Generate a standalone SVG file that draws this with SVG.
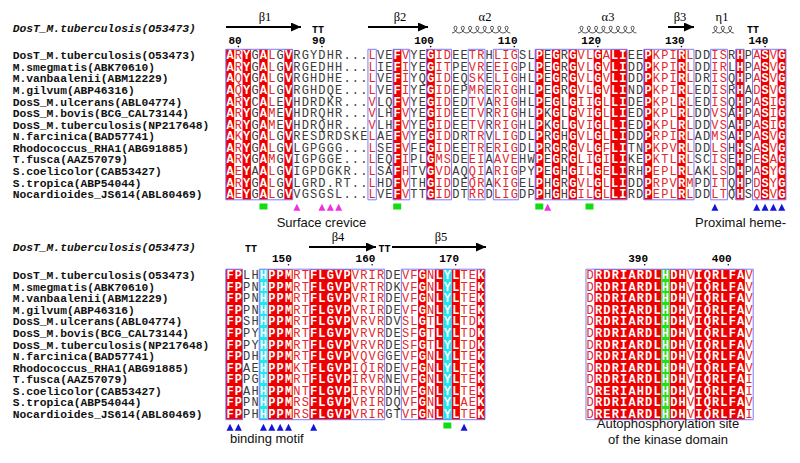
<svg xmlns="http://www.w3.org/2000/svg" width="800" height="463" viewBox="0 0 800 463">
<style>
.seq{font-family:"Liberation Mono",monospace;font-size:12px;letter-spacing:1.16px}
.tW{fill:#fff;font-weight:bold}
.tS{fill:#e3262b}
.tN{fill:#3a3a3a}
.rbg{fill:#ee0000}
.cbg{fill:#22e4f2}
.gbg{fill:#22dd22}
.frame{fill:none;stroke:#7b7bff;stroke-width:1;vector-effect:non-scaling-stroke}
.name{font-family:"Liberation Mono",monospace;font-size:11.3px;font-weight:bold;fill:#111}
.title{font-style:italic}
.num{font-family:"Liberation Mono",monospace;font-size:11px;font-weight:bold;text-anchor:end}
.lbl{font-family:"Liberation Sans",Arial,sans-serif;font-size:13px;fill:#111}
.ss{font-family:"Liberation Serif",serif;font-size:12.5px;text-anchor:middle}
.tt{font-family:"Liberation Mono",monospace;font-size:10px;font-weight:bold;text-anchor:middle}
.arrow{stroke:#000;stroke-width:2;marker-end:url(#ah)}
.helix{fill:none;stroke:#222;stroke-width:0.8}
.gm{fill:#11dd11}
.mg{fill:#f030e0}
.bl{fill:#1515d8}
</style>
<defs>
<marker id="ah" markerUnits="userSpaceOnUse" markerWidth="11" markerHeight="9" refX="10" refY="4.5" orient="auto"><path d="M0 0L10 4.5L0 9z" fill="#000"/></marker>
<path id="tri" d="M-3.5 3.5h7L0-3.5z"/>
<rect id="sq" x="-4" y="-3" width="8" height="6"/>
<g id="names" class="name">
<text x="12.7" y="59.2">DosT_M.tuberculosis(O53473)</text>
<text x="12.7" y="70.78">M.smegmatis(ABK70610)</text>
<text x="12.7" y="82.36">M.vanbaalenii(ABM12229)</text>
<text x="12.7" y="93.94">M.gilvum(ABP46316)</text>
<text x="12.7" y="105.52">DosS_M.ulcerans(ABL04774)</text>
<text x="12.7" y="117.1">DosS_M.bovis(BCG_CAL73144)</text>
<text x="12.7" y="128.68">DosS_M.tuberculosis(NP217648)</text>
<text x="12.7" y="140.26">N.farcinica(BAD57741)</text>
<text x="12.7" y="151.84">Rhodococcus_RHA1(ABG91885)</text>
<text x="12.7" y="163.42">T.fusca(AAZ57079)</text>
<text x="12.7" y="175">S.coelicolor(CAB53427)</text>
<text x="12.7" y="186.58">S.tropica(ABP54044)</text>
<text x="12.7" y="198.16">Nocardioides_JS614(ABL80469)</text>
</g>
<g id="topSeq" class="seq">
<text x="0.58" y="9.9">ARYGALGVRGYDHR...LVEFVYEGIDEETRHLIGSLPEGRGVLGALIEEPKPIRLDDISRHPASVG</text>
<text x="0.58" y="21.48">ARYGALGVRGEDHH...LIEFIYEGITPEVREEIGPLPEGRGVLGVLIDDPKPIRLDDIRLHPASVG</text>
<text x="0.58" y="33.06">AQYGALGVRGHDHE...LVEFIYQGIDEQSKELIGHLPEGRGVLGVLIDDPKPIRLDRISQHPASVG</text>
<text x="0.58" y="44.64">AQYGALGVRGHDQE...LVEFIYEGIDEPMRERIGHLPEGRGVLGVLINDPKPIRLEDISRHADSVG</text>
<text x="0.58" y="56.22">ARYCALEVHDRDKR...VLQFVYEGIDEDTVARIGHLPEGLGIIGLLIDEPKPLRLEDISQHPASIG</text>
<text x="0.58" y="67.8">ARYGAMEVHDRQHR...VLHFVYEGIDEETVRRIGHLPKGLGVIGLLIEDPKPLRLDDVSAHPASIG</text>
<text x="0.58" y="79.38">ARYGAMEVHDRQHR...VLHFVYEGIDEETVRRIGHLPKGLGVIGLLIEDPKPLRLDDVSAHPASIG</text>
<text x="0.58" y="90.96">AKYGALGVRESDRDSKELAEFVYEGIDDRTRVLIGDLPRGHGVLGLLIDDPRPIRLADMSAHPASVG</text>
<text x="0.58" y="102.54">ARYGALGVLGPGGG...LSEFVFEGIDEETRERIGDLPRGRGVLGFLITNPKPVRLDDLSHHSASVG</text>
<text x="0.58" y="114.12">ARYGAMGVIGPGGE...LEQFIPLGMSDEEIAAVEHWPEGRGLIGILIKEPKTLRLSCISEHPESAG</text>
<text x="0.58" y="125.7">AEYAALGVIGPDGKR..LSAFHTVGVDAQQIARIGPYPEGHGILGELIRHPEPLRLAKLSDHPASYG</text>
<text x="0.58" y="137.28">ARYGALGVLGRD.RT..LHDFVTHGIDDEQRAKIGELPHGRGVLGLLIDDPRPVRMPDITQHPDSYG</text>
<text x="0.58" y="148.86">AEYGALGVVGSGSL...LVEFVTTGIDDTRRDLIGDPPHGHGILGLLIRDPEPLRLDDLTQHSQSVG</text>
</g>
<g id="botSeq" class="seq">
<text x="0.58" y="9.9">FPLHHPPMRTFLGVPVRIRDEVFGNLYLTEK</text>
<text x="0.58" y="21.48">FPPNHPPMRTFLGVPVRTRDKVFGNLYLTEK</text>
<text x="0.58" y="33.06">FPPNHPPMRTFLGVPVRIRDEVFGNLYLTEK</text>
<text x="0.58" y="44.64">FPPNHPPMRTFLGVPVRIRDEVFGNLYLTEK</text>
<text x="0.58" y="56.22">FPSHHPPMRTFLGVPVRVRDVSLGTLYLTDK</text>
<text x="0.58" y="67.8">FPPYHPPMRTFLGVPVRVRDESFGTLYLTDK</text>
<text x="0.58" y="79.38">FPPYHPPMRTFLGVPVRVRDESFGTLYLTDK</text>
<text x="0.58" y="90.96">FPDHHPPMRTFLGVPVQVGGEVFGNLYLTEK</text>
<text x="0.58" y="102.54">FPAEHPPMKTFLGVPIQIRDEVFGNLYLTEK</text>
<text x="0.58" y="114.12">FPPGHPPMRTFLGVPIRVRNEVFGNLYLTEK</text>
<text x="0.58" y="125.7">FPAHHPPMNTFLGVPIRVRDHVFGNLYLTEK</text>
<text x="0.58" y="137.28">FPPNHPPMRSFLGVPVRIRDQVFGNLYLAEK</text>
<text x="0.58" y="148.86">FPPHHPPMRSFLGVPVRIRGTVFGNLYLTEK</text>
</g>
<g id="rSeq" class="seq">
<text x="0.58" y="9.9">DRDRIARDLHDHVIQRLFAV</text>
<text x="0.58" y="21.48">DRDRIARDLHDHVIQRLFAV</text>
<text x="0.58" y="33.06">DRDRIARDLHDHVIQRLFAV</text>
<text x="0.58" y="44.64">DRDRIARDLHDHVIQRLFAV</text>
<text x="0.58" y="56.22">DRDRIARDLHDHVIQRLFAV</text>
<text x="0.58" y="67.8">DRDRIARDLHDHVIQRLFAV</text>
<text x="0.58" y="79.38">DRDRIARDLHDHVIQRLFAV</text>
<text x="0.58" y="90.96">DRDRIARDLHDHVIQRLFAV</text>
<text x="0.58" y="102.54">DRDRIARDLHDHVIQRLFAV</text>
<text x="0.58" y="114.12">DRDRIARDLHDHVIQRLFAI</text>
<text x="0.58" y="125.7">DRERIAHDLHDHVIQRLFAI</text>
<text x="0.58" y="137.28">DRDRIARDLHDHVIQRLFAV</text>
<text x="0.58" y="148.86">DRERIARDLHDHVIQRLFAI</text>
</g>
<clipPath id="cTR"><path transform="scale(8.36 1)" d="M0 0h1v150.5h-1zM2 0h1v150.5h-1zM4 0h1v150.5h-1zM7 0h1v150.5h-1zM20 0h1v150.5h-1zM24 0h1v150.5h-1zM37 0h1v150.5h-1zM39 0h1v150.5h-1zM41 0h1v150.5h-1zM44 0h1v150.5h-1zM46 0h2v150.5h-2zM50 0h1v150.5h-1zM54 0h1v150.5h-1zM61 0h1v150.5h-1zM64 0h1v150.5h-1zM66 0h1v150.5h-1z"/></clipPath>
<clipPath id="cTS"><path transform="scale(8.36 1)" d="M1 0h1v150.5h-1zM5 0h1v150.5h-1zM17 0h1v150.5h-1zM21 0h1v150.5h-1zM25 0h2v150.5h-2zM29 0h2v150.5h-2zM32 0h3v150.5h-3zM42 0h2v150.5h-2zM45 0h1v150.5h-1zM51 0h3v150.5h-3zM55 0h1v150.5h-1zM58 0h2v150.5h-2zM63 0h1v150.5h-1zM65 0h1v150.5h-1z"/></clipPath>
<clipPath id="cTN"><path transform="scale(8.36 1)" d="M3 0h1v150.5h-1zM6 0h1v150.5h-1zM8 0h9v150.5h-9zM18 0h2v150.5h-2zM22 0h2v150.5h-2zM27 0h2v150.5h-2zM31 0h1v150.5h-1zM35 0h2v150.5h-2zM38 0h1v150.5h-1zM40 0h1v150.5h-1zM48 0h2v150.5h-2zM56 0h2v150.5h-2zM60 0h1v150.5h-1zM62 0h1v150.5h-1z"/></clipPath>
<clipPath id="cBW"><path transform="scale(8.36 1)" d="M0 0h2v150.5h-2zM4 0h4v150.5h-4zM10 0h5v150.5h-5zM23 0h1v150.5h-1zM25 0h3v150.5h-3zM30 0h1v150.5h-1z"/></clipPath>
<clipPath id="cBS"><path transform="scale(8.36 1)" d="M8 0h2v150.5h-2zM15 0h4v150.5h-4zM21 0h2v150.5h-2zM24 0h1v150.5h-1zM28 0h2v150.5h-2z"/></clipPath>
<clipPath id="cBN"><path transform="scale(8.36 1)" d="M2 0h2v150.5h-2zM19 0h2v150.5h-2z"/></clipPath>
<clipPath id="cRW"><path transform="scale(8.36 1)" d="M1 0h11v150.5h-11zM13 0h6v150.5h-6z"/></clipPath>
<clipPath id="cRS"><path transform="scale(8.36 1)" d="M0 0h1v150.5h-1zM12 0h1v150.5h-1zM19 0h1v150.5h-1z"/></clipPath>
</defs>
<rect width="800" height="463" fill="#fff"/>

<g id="annotations-top">
<text class="name title" x="12.7" y="32">DosT_M.tuberculosis(O53473)</text>
<text class="ss" x="265" y="21">β1</text>
<text class="ss" x="400" y="21">β2</text>
<text class="ss" x="485" y="21">α2</text>
<text class="ss" x="608" y="21">α3</text>
<text class="ss" x="680" y="21">β3</text>
<text class="ss" x="722" y="21">η1</text>
<line class="arrow" x1="226" y1="27" x2="301" y2="27"/>
<line class="arrow" x1="368" y1="27" x2="428" y2="27"/>
<line class="arrow" x1="668" y1="27" x2="694" y2="27"/>
<path class="helix" d="M452 33c3 0 5-3.5 5-5.5c0-1.6-3-1.6-3 0c0 2.8 2.5 5.5 5.3 5.5c3 0 5-3.5 5-5.5c0-1.6-3-1.6-3 0c0 2.8 2.5 5.5 5.3 5.5c3 0 5-3.5 5-5.5c0-1.6-3-1.6-3 0c0 2.8 2.5 5.5 5.3 5.5c3 0 5-3.5 5-5.5c0-1.6-3-1.6-3 0c0 2.8 2.5 5.5 5.3 5.5c3 0 5-3.5 5-5.5c0-1.6-3-1.6-3 0c0 2.8 2.5 5.5 5.3 5.5c3 0 5-3.5 5-5.5c0-1.6-3-1.6-3 0c0 2.8 2.5 5.5 5.3 5.5c3 0 5-3.5 5-5.5c0-1.6-3-1.6-3 0c0 2.8 2.5 5.5 5.3 5.5c3 0 5-3.5 5-5.5c0-1.6-3-1.6-3 0c0 2.8 2.5 5.5 5.3 5.5"/>
<path class="helix" d="M578 33c3 0 5-3.5 5-5.5c0-1.6-3-1.6-3 0c0 2.8 2.5 5.5 5.3 5.5c3 0 5-3.5 5-5.5c0-1.6-3-1.6-3 0c0 2.8 2.5 5.5 5.3 5.5c3 0 5-3.5 5-5.5c0-1.6-3-1.6-3 0c0 2.8 2.5 5.5 5.3 5.5c3 0 5-3.5 5-5.5c0-1.6-3-1.6-3 0c0 2.8 2.5 5.5 5.3 5.5c3 0 5-3.5 5-5.5c0-1.6-3-1.6-3 0c0 2.8 2.5 5.5 5.3 5.5c3 0 5-3.5 5-5.5c0-1.6-3-1.6-3 0c0 2.8 2.5 5.5 5.3 5.5c3 0 5-3.5 5-5.5c0-1.6-3-1.6-3 0c0 2.8 2.5 5.5 5.3 5.5c3 0 5-3.5 5-5.5c0-1.6-3-1.6-3 0c0 2.8 2.5 5.5 5.3 5.5"/>
<path class="helix" d="M712 33c3 0 5-3.5 5-5.5c0-1.6-3-1.6-3 0c0 2.8 2.5 5.5 5.3 5.5c3 0 5-3.5 5-5.5c0-1.6-3-1.6-3 0c0 2.8 2.5 5.5 5.3 5.5c3 0 5-3.5 5-5.5c0-1.6-3-1.6-3 0c0 2.8 2.5 5.5 5.3 5.5"/>
<text class="tt" x="318" y="32.5">TT</text>
<text class="tt" x="753" y="32.5">TT</text>
<g class="num">
<text x="241.66" y="43.7">80</text>
<text x="325.26" y="43.7">90</text>
<text x="433.94" y="43.7">100</text>
<text x="517.54" y="43.7">110</text>
<text x="601.14" y="43.7">120</text>
<text x="684.74" y="43.7">130</text>
<text x="768.34" y="43.7">140</text>
</g>
<g fill="#000">
<circle cx="238.36" cy="46.6" r="0.8"/><circle cx="321.96" cy="46.6" r="0.8"/><circle cx="430.64" cy="46.6" r="0.8"/><circle cx="514.24" cy="46.6" r="0.8"/><circle cx="597.84" cy="46.6" r="0.8"/><circle cx="681.44" cy="46.6" r="0.8"/><circle cx="765.04" cy="46.6" r="0.8"/>
</g>
</g>

<use id="names-top" href="#names"/>

<g id="block-top" transform="translate(225.82 49.3)">
<path class="rbg" transform="scale(8.36 1)" d="M0 0h1v150.5h-1zM2 0h1v150.5h-1zM4 0h1v150.5h-1zM7 0h1v150.5h-1zM20 0h1v150.5h-1zM24 0h1v150.5h-1zM37 0h1v150.5h-1zM39 0h1v150.5h-1zM41 0h1v150.5h-1zM44 0h1v150.5h-1zM46 0h2v150.5h-2zM50 0h1v150.5h-1zM54 0h1v150.5h-1zM61 0h1v150.5h-1zM64 0h1v150.5h-1zM66 0h1v150.5h-1z"/>
<use href="#topSeq" class="tW" clip-path="url(#cTR)"/>
<use href="#topSeq" class="tS" clip-path="url(#cTS)"/>
<use href="#topSeq" class="tN" clip-path="url(#cTN)"/>
<path class="frame" transform="scale(8.36 1)" d="M0 0h8v150.5h-8zM17 0h1v150.5h-1zM20 0h2v150.5h-2zM24 0h3v150.5h-3zM29 0h2v150.5h-2zM32 0h3v150.5h-3zM37 0h11v150.5h-11zM50 0h6v150.5h-6zM58 0h2v150.5h-2zM61 0h1v150.5h-1zM63 0h4v150.5h-4z"/>
</g>

<g id="markers-top">
<use href="#sq" class="gm" x="263.44" y="206.5"/><use href="#sq" class="gm" x="397.2" y="206.5"/><use href="#sq" class="gm" x="539.32" y="206.5"/><use href="#sq" class="gm" x="589.48" y="206.5"/>
<use href="#tri" class="mg" x="296.88" y="207.2"/><use href="#tri" class="mg" x="321.96" y="207.2"/><use href="#tri" class="mg" x="330.32" y="207.2"/><use href="#tri" class="mg" x="338.68" y="207.2"/><use href="#tri" class="mg" x="547.68" y="207.2"/>
<use href="#tri" class="bl" x="714.88" y="207.2"/><use href="#tri" class="bl" x="756.68" y="207.2"/><use href="#tri" class="bl" x="765.04" y="207.2"/><use href="#tri" class="bl" x="773.4" y="207.2"/><use href="#tri" class="bl" x="781.76" y="207.2"/>
<text class="lbl" x="321.5" y="226.5" text-anchor="middle">Surface crevice</text>
<text class="lbl" x="695" y="226.5">Proximal heme-</text>
</g>

<g id="annotations-bottom">
<text class="name title" x="12.7" y="251">DosT_M.tuberculosis(O53473)</text>
<text class="tt" x="251" y="251.5">TT</text>
<text class="tt" x="384.5" y="251.5">TT</text>
<text class="ss" x="338" y="241">β4</text>
<text class="ss" x="441" y="241">β5</text>
<line class="arrow" x1="309" y1="247" x2="376" y2="247"/>
<line class="arrow" x1="392" y1="247" x2="486" y2="247"/>
<g class="num">
<text x="291.82" y="261.8">150</text>
<text x="375.42" y="261.8">160</text>
<text x="459.02" y="261.8">170</text>
<text x="648" y="261.8">390</text>
<text x="731.6" y="261.8">400</text>
</g>
<g fill="#000">
<circle cx="288.52" cy="264.7" r="0.8"/><circle cx="372.12" cy="264.7" r="0.8"/><circle cx="455.72" cy="264.7" r="0.8"/><circle cx="644.7" cy="264.7" r="0.8"/><circle cx="728.3" cy="264.7" r="0.8"/>
</g>
</g>

<use id="names-bottom" href="#names" y="219.9"/>

<g id="block-bottom" transform="translate(225.82 269.2)">
<path class="rbg" transform="scale(8.36 1)" d="M0 0h2v150.5h-2zM5 0h3v150.5h-3zM10 0h5v150.5h-5zM23 0h1v150.5h-1zM25 0h1v150.5h-1zM27 0h1v150.5h-1zM30 0h1v150.5h-1z"/>
<path class="cbg" transform="scale(8.36 1)" d="M4 0h1v150.5h-1zM26 0h1v150.5h-1z"/>
<use href="#botSeq" class="tW" clip-path="url(#cBW)"/>
<use href="#botSeq" class="tS" clip-path="url(#cBS)"/>
<use href="#botSeq" class="tN" clip-path="url(#cBN)"/>
<path class="frame" transform="scale(8.36 1)" d="M0 0h2v150.5h-2zM4 0h15v150.5h-15zM21 0h10v150.5h-10z"/>
</g>

<g id="block-right" transform="translate(586 269.2)">
<path class="rbg" transform="scale(8.36 1)" d="M1 0h8v150.5h-8zM10 0h2v150.5h-2zM13 0h6v150.5h-6z"/>
<path class="gbg" transform="scale(8.36 1)" d="M9 0h1v150.5h-1z"/>
<use href="#rSeq" class="tW" clip-path="url(#cRW)"/>
<use href="#rSeq" class="tS" clip-path="url(#cRS)"/>
<path class="frame" transform="scale(8.36 1)" d="M0 0h20v150.5h-20z"/>
</g>

<g id="markers-bottom">
<use href="#tri" class="bl" x="230" y="427.2"/><use href="#tri" class="bl" x="238.36" y="427.2"/><use href="#tri" class="bl" x="263.44" y="427.2"/><use href="#tri" class="bl" x="271.8" y="427.2"/><use href="#tri" class="bl" x="280.16" y="427.2"/><use href="#tri" class="bl" x="288.52" y="427.2"/><use href="#tri" class="bl" x="313.6" y="427.2"/><use href="#tri" class="bl" x="464.08" y="427.2"/>
<use href="#sq" class="gm" x="447.36" y="425.5"/>
<text class="lbl" x="230" y="442.5">binding motif</text>
<text class="lbl" x="668" y="428" text-anchor="middle">Autophosphorylation site</text>
<text class="lbl" x="668" y="444" text-anchor="middle">of the kinase domain</text>
</g>
</svg>
